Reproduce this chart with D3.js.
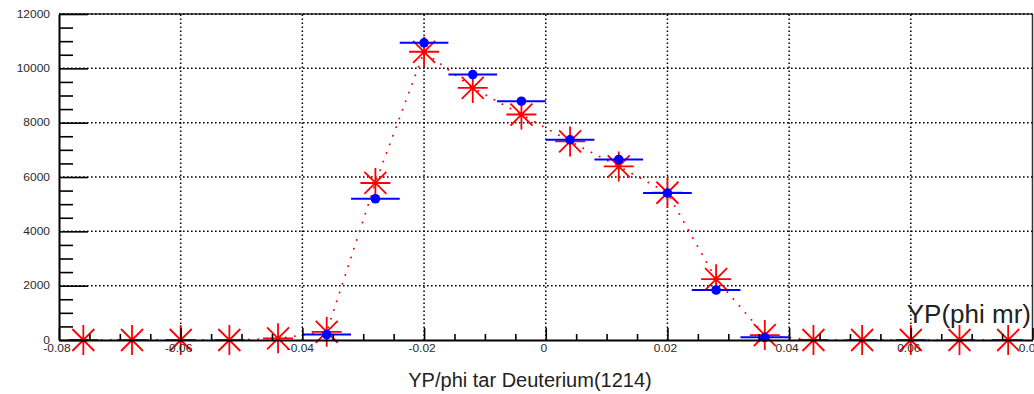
<!DOCTYPE html>
<html>
<head>
<meta charset="utf-8">
<script src="https://cdn.jsdelivr.net/npm/d3@7"></script>
<style>
  html, body { margin: 0; padding: 0; background: #fff; }
  svg { display: block; }
</style>
</head>
<body>
<svg id="chart" width="1034" height="394"></svg>
<script>
// Histogram bins (width 0.008) across the YP/phi target range
const binCenters = [-0.076, -0.068, -0.060, -0.052, -0.044, -0.036, -0.028, -0.020, -0.012, -0.004,
                     0.004,  0.012,  0.020,  0.028,  0.036,  0.044,  0.052,  0.060,  0.068,  0.076];
const binHalfWidth = 0.004;

// Red series (star markers joined by a dotted line), one value per bin
const redCounts = [0, 0, 0, 0, 60, 300, 5780, 10610, 9280, 8300,
                   7310, 6390, 5420, 2240, 180, 0, 0, 0, 0, 0];

// Blue series (filled circles with bin-width bars), non-empty bins only
const blueCenters = [-0.036, -0.028, -0.020, -0.012, -0.004, 0.004, 0.012, 0.020, 0.028, 0.036];
const blueCounts  = [200, 5200, 10940, 9770, 8790, 7370, 6640, 5410, 1840, 100];

// Axis ticks and labels
const xTickValues = [-0.08, -0.06, -0.04, -0.02, 0, 0.02, 0.04, 0.06, 0.08];
const xTickLabels = ["-0.08", "-0.06", "-0.04", "-0.02", "0", "0.02", "0.04", "0.06", "0.08"];
const xMinorStep = 0.005;
const yTickValues = [0, 2000, 4000, 6000, 8000, 10000, 12000];
const yTickLabels = ["0", "2000", "4000", "6000", "8000", "10000", "12000"];
const yMinorStep = 500;

const xTitle = "YP/phi tar Deuterium(1214)";
const cornerTitle = "YP(phi mr)";

const svg = d3.select("#chart");
const frame = { left: 59, right: 1032.5, top: 14, bottom: 340 };

const x = d3.scaleLinear().domain([-0.08, 0.08]).range([frame.left, frame.right]);
const y = d3.scaleLinear().domain([0, 12000]).range([frame.bottom, frame.top]);

const labelFont = "'Liberation Sans', Arial, Helvetica, sans-serif";

// Frame (top and right edges)
svg.append("line")
  .attr("x1", frame.left).attr("x2", frame.right)
  .attr("y1", frame.top).attr("y2", frame.top)
  .attr("stroke", "#333").attr("stroke-width", 1.5);
svg.append("line")
  .attr("x1", frame.right).attr("x2", frame.right)
  .attr("y1", frame.top).attr("y2", frame.bottom)
  .attr("stroke", "#333").attr("stroke-width", 1.5);

// Dotted grid at major ticks
const grid = svg.append("g")
  .attr("stroke", "#000").attr("stroke-width", 1.5)
  .attr("stroke-dasharray", "1.6,2.4").attr("fill", "none");
grid.selectAll("line.gx")
  .data(xTickValues.filter(v => v > -0.08 && v < 0.08))
  .join("line").attr("class", "gx")
  .attr("x1", d => x(d)).attr("x2", d => x(d))
  .attr("y1", frame.bottom).attr("y2", frame.top);
grid.selectAll("line.gy")
  .data(yTickValues.filter(v => v > 0))
  .join("line").attr("class", "gy")
  .attr("x1", frame.left).attr("x2", frame.right)
  .attr("y1", d => y(d)).attr("y2", d => y(d));

// Red series: dotted connecting line
const redPoints = binCenters.map((c, i) => ({ c, v: redCounts[i] }));
svg.append("path")
  .datum(redPoints)
  .attr("fill", "none")
  .attr("stroke", "#ff0000")
  .attr("stroke-width", 1.8)
  .attr("stroke-linecap", "round")
  .attr("stroke-dasharray", "0.2,9")
  .attr("d", d3.line().x(d => x(d.c)).y(d => y(d.v)));

// Red star markers
function starPath(cx, cy) {
  const p = d3.path();
  const a = 15, b = 11;
  p.moveTo(cx - a, cy); p.lineTo(cx + a, cy);
  p.moveTo(cx, cy - a); p.lineTo(cx, cy + a);
  p.moveTo(cx - b, cy - b); p.lineTo(cx + b, cy + b);
  p.moveTo(cx - b, cy + b); p.lineTo(cx + b, cy - b);
  return p.toString();
}
svg.append("g").selectAll("path")
  .data(redPoints)
  .join("path")
  .attr("d", d => starPath(x(d.c), y(d.v)))
  .attr("fill", "none")
  .attr("stroke", "#ff0000")
  .attr("stroke-width", 1.8);

// Blue series: bin-width bars and filled markers
const bluePoints = blueCenters.map((c, i) => ({ c, v: blueCounts[i] }));
const blue = svg.append("g");
blue.selectAll("line")
  .data(bluePoints)
  .join("line")
  .attr("x1", d => x(d.c - binHalfWidth)).attr("x2", d => x(d.c + binHalfWidth))
  .attr("y1", d => y(d.v)).attr("y2", d => y(d.v))
  .attr("stroke", "#0000ff").attr("stroke-width", 2);
blue.selectAll("circle")
  .data(bluePoints)
  .join("circle")
  .attr("cx", d => x(d.c)).attr("cy", d => y(d.v))
  .attr("r", 4.8)
  .attr("fill", "#0000ff");

// Axes (drawn last so they sit over markers at zero)
const yMinor = d3.range(0, 12000 + 1, yMinorStep).filter(v => !yTickValues.includes(v));
svg.append("g")
  .attr("transform", `translate(${frame.left},0)`)
  .call(d3.axisLeft(y).tickValues(yMinor).tickSize(-14).tickFormat(""))
  .call(g => g.select(".domain").remove())
  .call(g => g.selectAll("line").attr("stroke", "#000").attr("stroke-width", 1.6));
const yAxis = svg.append("g")
  .attr("transform", `translate(${frame.left},0)`)
  .call(d3.axisLeft(y).tickValues(yTickValues).tickSize(-29).tickSizeOuter(0).tickFormat(""));
yAxis.select(".domain").attr("stroke", "#000").attr("stroke-width", 2);
yAxis.selectAll("line").attr("stroke", "#000").attr("stroke-width", 1.6);

const xMinor = d3.range(-0.08, 0.08 + 1e-9, xMinorStep)
  .filter(v => !xTickValues.some(t => Math.abs(t - v) < 1e-9));
svg.append("g")
  .attr("transform", `translate(0,${frame.bottom})`)
  .call(d3.axisBottom(x).tickValues(xMinor).tickSize(-6).tickFormat(""))
  .call(g => g.select(".domain").remove())
  .call(g => g.selectAll("line").attr("stroke", "#000").attr("stroke-width", 1.6));
const xAxis = svg.append("g")
  .attr("transform", `translate(0,${frame.bottom})`)
  .call(d3.axisBottom(x).tickValues(xTickValues).tickSize(-12).tickSizeOuter(0).tickFormat(""));
xAxis.select(".domain").attr("stroke", "#000").attr("stroke-width", 2);
xAxis.selectAll("line").attr("stroke", "#000").attr("stroke-width", 1.6);

// Tick labels (slightly widened glyphs)
const labels = svg.append("g")
  .attr("font-family", labelFont).attr("font-size", 10).attr("fill", "#2a2a2a");
labels.selectAll("text.yl")
  .data(yTickValues)
  .join("text").attr("class", "yl")
  .attr("transform", d => `translate(${frame.left - 9},${y(d) + 3.5}) scale(1.2,1)`)
  .attr("text-anchor", "end")
  .text((d, i) => yTickLabels[i]);
labels.selectAll("text.xl")
  .data(xTickValues)
  .join("text").attr("class", "xl")
  .attr("transform", d => `translate(${x(d) - 2},${frame.bottom + 11.5}) scale(1.2,1)`)
  .attr("text-anchor", "middle")
  .text((d, i) => xTickLabels[i]);

// Titles
svg.append("text")
  .attr("x", 530).attr("y", 387)
  .attr("text-anchor", "middle")
  .attr("font-family", labelFont).attr("font-size", 20)
  .attr("fill", "#222")
  .text(xTitle);
svg.append("text")
  .attr("x", 1031).attr("y", 323)
  .attr("text-anchor", "end")
  .attr("font-family", labelFont).attr("font-size", 26)
  .attr("fill", "#222")
  .text(cornerTitle);
</script>
</body>
</html>
